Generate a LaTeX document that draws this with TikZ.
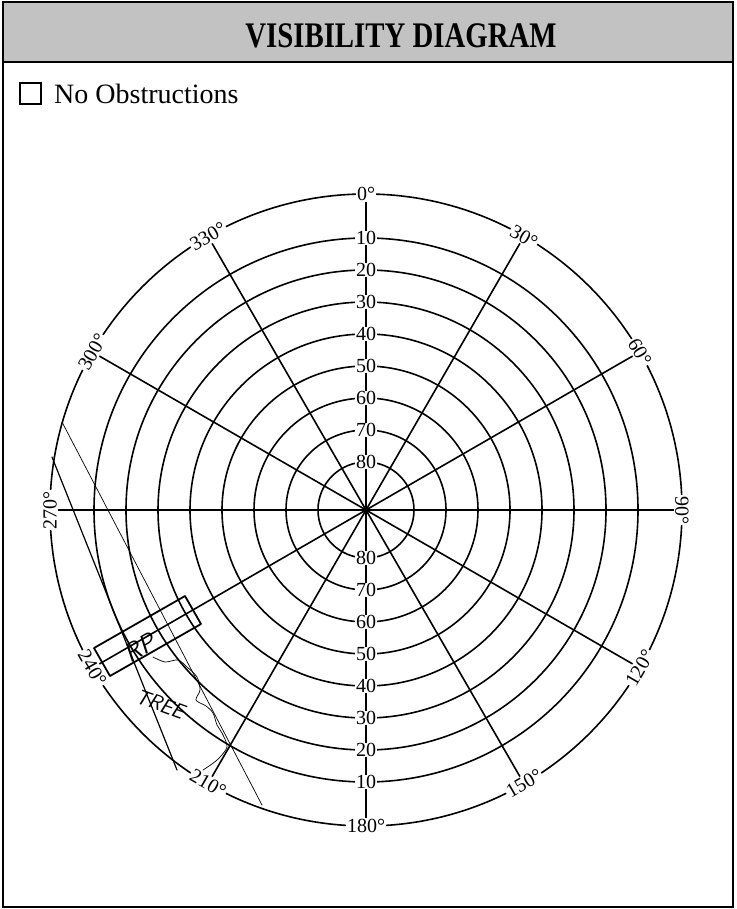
\documentclass[tikz,border=0pt]{standalone}
\usepackage{fontspec}
\setmainfont{Liberation Serif}
\begin{document}
\begin{tikzpicture}[x=1pt,y=-1pt,
  ring/.style={line width=1.6pt},
  deg/.style={fill=white,inner sep=1.2pt,font=\fontsize{20}{20}\selectfont},
  ringlbl/.style={fill=white,inner xsep=0.6pt,inner ysep=0pt,font=\fontsize{20}{20}\selectfont},
  pen/.style={line width=1.2pt,line cap=round,line join=round},
  thinpen/.style={line width=0.7pt,line cap=round,line join=round},
  hand/.style={font=\sffamily\itshape,inner sep=0pt}]
\useasboundingbox (0,0) rectangle (736,909);
\fill[white] (0,0) rectangle (736,909);
% title bar
\fill[black!24] (3,3) rectangle (733,62);
\draw[line width=2.4pt] (3,2) rectangle (733,907);
\draw[line width=2pt] (3,62) -- (733,62);
\node[font=\bfseries\fontsize{36}{36}\selectfont] (title) at (401,36) {\scalebox{0.8}[1]{VISIBILITY DIAGRAM}};
% checkbox
\node[draw,line width=1.3pt,minimum size=21pt,inner sep=0pt] (chk) at (30.5,93.5) {};
\node[anchor=west,font=\fontsize{28}{28}\selectfont,inner sep=0pt] (noobs) at (54,94) {No Obstructions};
% polar grid
\coordinate (c) at (366,510);
\foreach \r in {48,80,...,272} \draw[ring] (c) circle[radius=\r];
\draw[ring] (c) circle[radius=316];
\foreach \a/\rot in {0/0,30/-30,60/-60,90/-90,120/60,150/30,180/0,210/-30,240/-60,270/90,300/60,330/30}
  \node[deg,rotate=\rot] (d\a) at ({366+316*sin(\a)},{510-316*cos(\a)}) {\a°};
\foreach \a in {0,30,...,330} \draw[ring] (c) -- (d\a);
\fill (c) circle[radius=3.2];
\foreach \v [count=\k] in {80,70,60,50,40,30,20,10}{
  \node[ringlbl] (t\v) at (366,{510-48-32*(\k-1)}) {\v};
  \node[ringlbl] (b\v) at (366,{510+48+32*(\k-1)}) {\v};
}
% hand-drawn marks
\draw[thinpen] (62,422) -- (262,805);
\draw[pen] (52,457) -- (177,770);
\draw[pen,line width=1.8pt] (185,596) -- (201,624) -- (110,676) -- (94,648) -- cycle;
\node[hand,font=\sffamily\itshape\fontsize{26}{26}\selectfont,rotate=30] (rp) at (140,648) {RP};
\node[hand,font=\sffamily\itshape\fontsize{21}{21}\selectfont,rotate=-20] (tree) at (160,704) {TREE};
\draw[thinpen] plot[smooth] coordinates {(153,657) (165,662) (178,660) (187,667) (197,677) (200,690) (196,700) (206,706) (213,713) (217,725) (222,733) (227,747) (217,760) (203,770)};
\end{tikzpicture}
\end{document}
